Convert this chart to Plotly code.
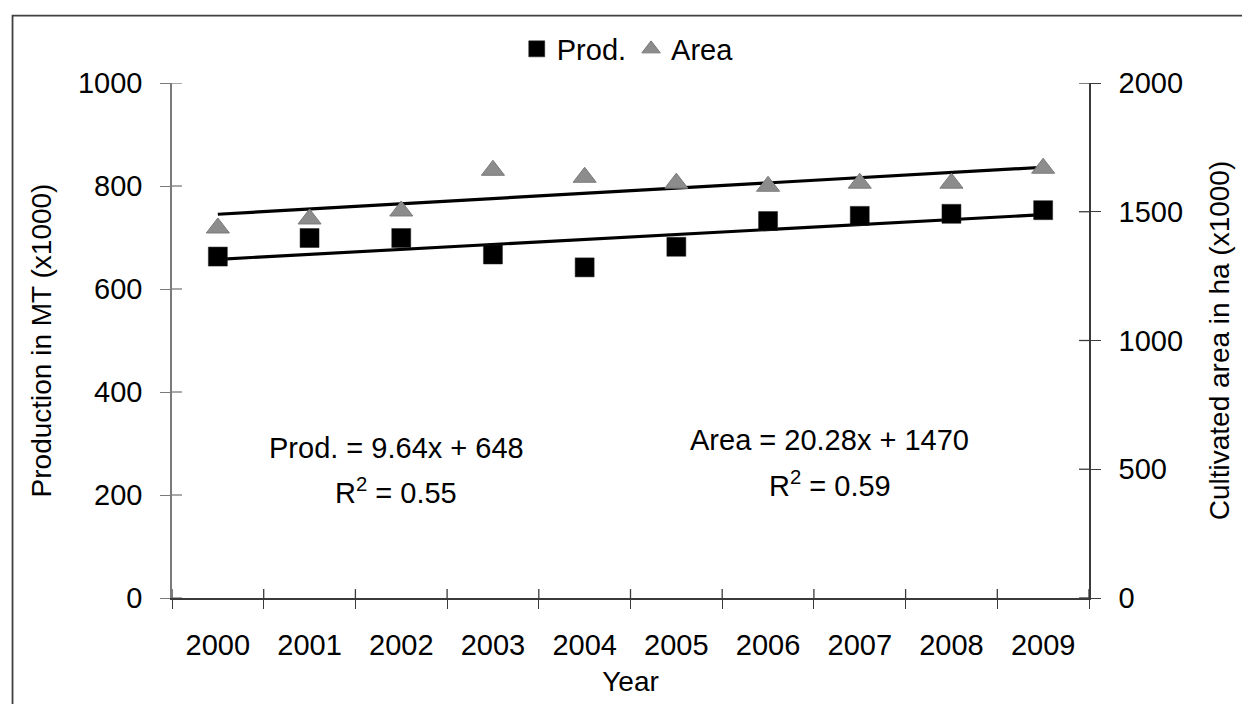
import plotly.graph_objects as go

# Annual production and cultivated area, 2000-2009
years = ["2000", "2001", "2002", "2003", "2004", "2005", "2006", "2007", "2008", "2009"]
production = [663, 699, 699, 667, 642, 682, 732, 742, 746, 753]          # MT (x1000)
area = [1437, 1472, 1503, 1661, 1634, 1611, 1599, 1611, 1611, 1669]     # ha (x1000)

# Linear trend fits (x = 1 for the first year)
prod_slope, prod_intercept, prod_r2 = 9.64, 648, 0.55
area_slope, area_intercept, area_r2 = 20.28, 1470, 0.59

left_range = [0, 1000]
right_range = [0, 2000]
left_ticks = [0, 200, 400, 600, 800, 1000]
right_ticks = [0, 500, 1000, 1500, 2000]

FONT = "Liberation Sans, Arial, sans-serif"
FS = 29
TXT = "#000000"
AX = "#3a3a3a"
AX_LEFT = "#7a7a7a"

W, H = 1242, 704
M_L, M_R, M_T, M_B = 172, 150, 83, 102
PLOT_W = W - M_L - M_R
PLOT_H = H - M_T - M_B
TICK_IN = 10  # inner half of the crossing tick marks, px


def trend(slope, intercept, idx):
    return slope * (idx + 1) + intercept


ends = [0, len(years) - 1]
prod_trend = [trend(prod_slope, prod_intercept, i) for i in ends]
area_trend = [trend(area_slope, area_intercept, i) for i in ends]
cat_range = [-0.5, len(years) - 0.5]

fig = go.Figure()

fig.add_trace(go.Scatter(
    x=[years[i] for i in ends], y=prod_trend, mode="lines",
    line=dict(color="black", width=3.2), showlegend=False, hoverinfo="skip",
))
fig.add_trace(go.Scatter(
    x=[years[i] for i in ends], y=area_trend, mode="lines", yaxis="y2",
    line=dict(color="black", width=3.2), showlegend=False, hoverinfo="skip",
))
fig.add_trace(go.Scatter(
    x=years, y=production, mode="markers", name="Prod.",
    marker=dict(symbol="square", size=19, color="black",
                line=dict(color="#222222", width=0.5)),
))
fig.add_trace(go.Scatter(
    x=years, y=area, mode="markers", name="Area", yaxis="y2",
    marker=dict(symbol="triangle-up", size=20, color="#8c8c8c",
                line=dict(color="#7a7a7a", width=1)),
))

common_tick = dict(tickfont=dict(family=FONT, size=FS, color=TXT))
title_font = dict(family=FONT, size=28, color=TXT)

fig.update_layout(
    width=W, height=H,
    margin=dict(l=M_L, r=M_R, t=M_T, b=M_B),
    paper_bgcolor="white", plot_bgcolor="white",
    font=dict(family=FONT, size=FS, color=TXT),
    showlegend=True,
    legend=dict(
        orientation="h", x=0.497, xanchor="center", y=1.066, yanchor="middle",
        font=dict(family=FONT, size=FS, color=TXT),
        bgcolor="rgba(0,0,0,0)", itemsizing="trace",
    ),
    xaxis=dict(
        type="category", categoryorder="array", categoryarray=years,
        range=cat_range,
        showline=True, linecolor=AX, linewidth=1.5,
        ticks="outside", ticklen=9, tickwidth=1.3, tickcolor=AX,
        tickson="boundaries", showgrid=False, zeroline=False,
        ticklabelstandoff=20,
        title=dict(text="Year", font=title_font, standoff=12),
        **common_tick,
    ),
    yaxis=dict(
        range=left_range, tickvals=left_ticks,
        showline=True, linecolor=AX_LEFT, linewidth=1.5,
        ticks="outside", ticklen=10, tickwidth=1.3, tickcolor=AX_LEFT,
        showgrid=False, zeroline=False, ticklabelstandoff=12,
        title=dict(text="Production in MT (x1000)", font=title_font, standoff=18),
        **common_tick,
    ),
    yaxis2=dict(
        range=right_range, tickvals=right_ticks, overlaying="y", side="right",
        anchor="x",
        showline=True, linecolor=AX, linewidth=1.5,
        ticks="outside", ticklen=10, tickwidth=1.3, tickcolor=AX,
        showgrid=False, zeroline=False, ticklabelstandoff=12,
        title=dict(text="Cultivated area in ha (x1000)", font=title_font, standoff=27),
        **common_tick,
    ),
)

# inner half of the tick marks, so each tick crosses its axis line
for v in left_ticks:
    fig.add_shape(type="line", xref="x domain", yref="y",
                  x0=0, x1=TICK_IN / PLOT_W, y0=v, y1=v,
                  line=dict(color=AX_LEFT, width=1.3))
for v in right_ticks:
    fig.add_shape(type="line", xref="x domain", yref="y2",
                  x0=1 - TICK_IN / PLOT_W, x1=1, y0=v, y1=v,
                  line=dict(color=AX, width=1.3))
for k in range(len(years) + 1):
    b = k - 0.5  # boundary between neighbouring categories
    fig.add_shape(type="line", xref="x", yref="y domain",
                  x0=b, x1=b, y0=0, y1=9 / PLOT_H,
                  line=dict(color=AX, width=1.3))

# outer frame of the chart area
fig.add_shape(
    type="rect", xref="paper", yref="paper",
    x0=-0.1739, x1=1.3, y0=-0.4, y1=1.131,
    line=dict(color="#404040", width=1.8), fillcolor="rgba(0,0,0,0)",
    layer="below",
)

eq_font = dict(family=FONT, size=FS, color=TXT)
fig.add_annotation(
    xref="paper", yref="paper", x=0.2446, y=0.291, showarrow=False,
    xanchor="center", yanchor="middle",
    text=f"Prod. = {prod_slope:.2f}x + {prod_intercept}", font=eq_font,
)
fig.add_annotation(
    xref="paper", yref="paper", x=0.2446, y=0.207, showarrow=False,
    xanchor="center", yanchor="middle",
    text=f"R<sup>2</sup> = {prod_r2:.2f}", font=eq_font,
)
fig.add_annotation(
    xref="paper", yref="paper", x=0.7174, y=0.306, showarrow=False,
    xanchor="center", yanchor="middle",
    text=f"Area = {area_slope:.2f}x + {area_intercept}", font=eq_font,
)
fig.add_annotation(
    xref="paper", yref="paper", x=0.7174, y=0.222, showarrow=False,
    xanchor="center", yanchor="middle",
    text=f"R<sup>2</sup> = {area_r2:.2f}", font=eq_font,
)

fig.write_html("out.html")
